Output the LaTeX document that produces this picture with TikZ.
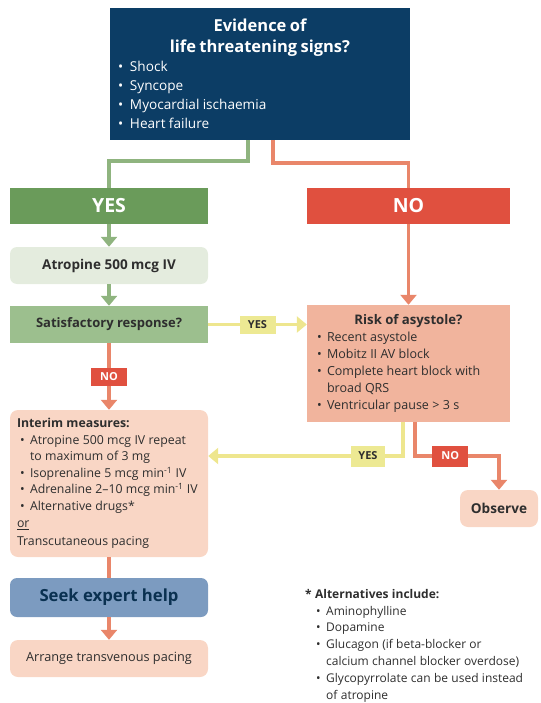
\documentclass[tikz,border=0pt]{standalone}
\usepackage{fontspec}
\setmainfont{Open Sans}
\usepackage{tikz}
\usetikzlibrary{arrows.meta, calc, positioning}
\definecolor{navy}{HTML}{0C3D65}
\definecolor{yesgreen}{HTML}{6A9B5A}
\definecolor{nored}{HTML}{E0503F}
\definecolor{palegreen}{HTML}{E4ECDE}
\definecolor{midgreen}{HTML}{9CBF8E}
\definecolor{salmon}{HTML}{F1B49D}
\definecolor{palesalmon}{HTML}{F9D6C5}
\definecolor{seekblue}{HTML}{7C9BC0}
\definecolor{linegreen}{HTML}{8FB47F}
\definecolor{linered}{HTML}{E9866A}
\definecolor{lineyellow}{HTML}{EEE68E}
\definecolor{tagyellow}{HTML}{EDE993}
\definecolor{darktext}{HTML}{2E2E2E}
\newcommand{\blt}[2][10pt]{\par\noindent\hangindent=#1\hangafter=1\makebox[#1][l]{\textbullet}#2\par}
\tikzset{
  box/.style={inner sep=0pt, text=darktext, align=center},
  tag/.style={inner sep=0pt, minimum height=18pt, font=\fontsize{11}{13}\bfseries\selectfont},
  conn/.style={line width=3.5pt},
  tip/.style={-{Triangle[width=16pt,length=10pt]}}
}
\begin{document}
\begin{tikzpicture}[x=1pt, y=-1pt]
		\useasboundingbox (0,0) rectangle (540,703);
		\node(signs)  [box, fill=navy, text=white, minimum width=300pt, minimum height=132pt, text width=284pt, align=left] at (260,74)  {{\centering\fontsize{16.5}{21}\bfseries\selectfont Evidence of\\life threatening signs?\par}\fontsize{13.6}{19}\selectfont\blt[12pt]{Shock}\blt[12pt]{Syncope}\blt[12pt]{Myocardial ischaemia}\blt[12pt]{Heart failure}};
		\node(yes)    [box, fill=yesgreen, text=white, minimum width=198pt, minimum height=36pt, font=\fontsize{19.5}{22}\bfseries\selectfont] at (109,206)  {YES};
		\node(no)     [box, fill=nored, text=white, minimum width=203pt, minimum height=36pt, font=\fontsize{19.5}{22}\bfseries\selectfont] at (408.5,206)  {NO};
		\node(atro)   [box, fill=palegreen, rounded corners=7pt, minimum width=198pt, minimum height=37pt, font=\fontsize{13.5}{15}\bfseries\selectfont] at (109,265.5)  {Atropine 500 mcg IV};
		\node(sat)    [box, fill=midgreen, minimum width=198pt, minimum height=37pt, font=\fontsize{13}{15}\bfseries\selectfont] at (109,324.5)  {Satisfactory response?};
		\node(risk)   [box, fill=salmon, minimum width=203pt, minimum height=117pt, text width=183pt, align=left] at (408.5,363.5)  {{\centering\fontsize{13.2}{18}\bfseries\selectfont Risk of asystole?\par}\fontsize{12.5}{17}\selectfont\blt{Recent asystole}\blt{Mobitz II AV block}\blt{Complete heart block with broad QRS}\blt{Ventricular pause > 3 s}};
		\node(interim)[box, fill=palesalmon, rounded corners=8pt, minimum width=198pt, minimum height=147pt, text width=184pt, align=left] at (109,483.5)  {\fontsize{12.3}{16.6}\selectfont{\bfseries Interim measures:\par}\leftskip=3pt\blt{Atropine 500 mcg IV repeat to maximum of 3 mg}\blt{Isoprenaline 5 mcg min\textsuperscript{-1} IV}\blt{Adrenaline 2–10 mcg min\textsuperscript{-1} IV}\blt{Alternative drugs*}\leftskip=0pt\noindent\underline{or}\par\vspace{2pt}Transcutaneous pacing\par};
		\node(seek)   [box, fill=seekblue, text=navy!80!black, rounded corners=7pt, minimum width=198pt, minimum height=39pt, font=\fontsize{16.7}{19}\bfseries\selectfont] at (109,597.5)  {Seek expert help};
		\node(arrange)[box, fill=palesalmon, rounded corners=8pt, minimum width=198pt, minimum height=37pt, font=\fontsize{12.7}{14}\selectfont] at (109,658.5)  {Arrange transvenous pacing};
		\node(obs)    [box, fill=palesalmon, rounded corners=8pt, minimum width=78pt, minimum height=37pt, font=\fontsize{13.6}{15}\bfseries\selectfont] at (499,508.5)  {Observe};
		\node(alts)   [text=darktext, anchor=north west, inner sep=0pt, text width=232pt, align=left] at (305,589)  {\fontsize{12}{16.8}\selectfont{\bfseries * Alternatives include:\par}\leftskip=11pt\blt{Aminophylline}\blt{Dopamine}\blt{Glucagon (if beta-blocker or\newline calcium channel blocker overdose)}\blt{Glycopyrrolate can be used instead of atropine}};
		
		\coordinate (yturn) at (403,456);
		\coordinate (nturn) at (415,456);
		\draw[conn, linegreen] ([xshift=-12pt]signs.south) -- ++(0,21) -| (yes.north);
		\draw[conn, linered] ([xshift=13pt]signs.south) -- ++(0,23) -| (no.north);
		\draw[conn, tip, linegreen] (yes.south) -- (atro.north);
		\draw[conn, tip, linegreen] (atro.south) -- (sat.north);
		\draw[conn, tip, linered] (no.south) -- (risk.north);
		\draw[conn, tip, lineyellow] (sat.east) -- (sat.east -| risk.west) node[midway, tag, fill=tagyellow, text=darktext, minimum width=36pt] (yes1) {YES};
		\draw[conn, tip, linered] (sat.south) -- (interim.north) node[midway, tag, fill=nored, text=white, minimum width=36pt] (no1) {NO};
		\draw[conn, tip, lineyellow] (risk.south -| yturn) -- (yturn) -- (yturn -| interim.east) node[pos=0.18, tag, fill=tagyellow, text=darktext, minimum width=34pt, minimum height=21pt] (yes2) {YES};
		\draw[conn, tip, linered] (risk.south -| nturn) -- (nturn) -| (obs.north) node[pos=0.21, tag, fill=nored, text=white, minimum width=36pt, minimum height=21pt] (no2) {NO};
		\draw[conn, linered] (interim.south) -- (seek.north);
		\draw[conn, tip, linered] (seek.south) -- (arrange.north);
		\end{tikzpicture}
\end{document}
